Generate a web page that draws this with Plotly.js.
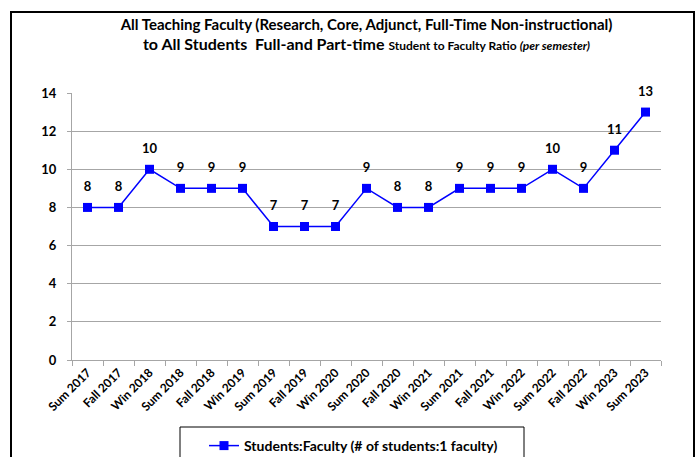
<!DOCTYPE html>
<html>
<head>
<meta charset="utf-8">
<script src="https://cdn.plot.ly/plotly-3.0.1.min.js"></script>
<style>html,body{margin:0;padding:0;background:#fff;}#chart{width:699px;height:457px;}</style>
</head>
<body>
<div id="chart"></div>
<script>
const semesters = ["Sum 2017","Fall 2017","Win 2018","Sum 2018","Fall 2018","Win 2019","Sum 2019","Fall 2019","Win 2020","Sum 2020","Fall 2020","Win 2021","Sum 2021","Fall 2021","Win 2022","Sum 2022","Fall 2022","Win 2023","Sum 2023"];
const ratio = [8,8,10,9,9,9,7,7,7,9,8,8,9,9,9,10,9,11,13];
const yTicks = [0,2,4,6,8,10,12,14];
const seriesName = "Students:Faculty (# of students:1 faculty)";

const FONT = "Lato, 'Open Sans', sans-serif";
const W = 699, H = 457;
const L = 72, R = 661, T = 93, B = 360;
const px = x => (x - L) / (R - L);
const py = y => (B - y) / (B - T);

const trace = {
  x: semesters, y: ratio, type: 'scatter', mode: 'lines+markers',
  name: seriesName,
  line: {color: '#0000FF', width: 1.5},
  marker: {symbol: 'square', size: 9, color: '#0000FF'},
  cliponaxis: false
};
const labels = {
  x: semesters, y: ratio, type: 'scatter', mode: 'markers+text',
  showlegend: false, hoverinfo: 'skip',
  marker: {size: 19, color: 'rgba(0,0,0,0)'},
  text: ratio.map(String), textposition: 'top center',
  textfont: {family: FONT, size: 13, color: '#000', weight: 'bold'},
  cliponaxis: false
};

const layout = {
  width: W, height: H,
  margin: {l: L, r: W - R, t: T, b: H - B},
  paper_bgcolor: '#fff', plot_bgcolor: '#fff',
  font: {family: FONT, color: '#000'},
  title: {
    text: "<b>All Teaching Faculty (Research, Core, Adjunct, Full-Time Non-instructional)</b><br><span style='font-size:16px'><b>to All Students  Full-and Part-time </b></span><span style='font-size:12px'><b>Student to Faculty Ratio <i>(per semester)</i></b></span>",
    font: {family: FONT, size: 15, color: '#000'},
    x: 0.5, xref: 'paper', xanchor: 'center',
    y: 1 - 30 / H, yref: 'container', yanchor: 'top'
  },
  xaxis: {
    type: 'category', categoryorder: 'array', categoryarray: semesters,
    range: [-0.5, semesters.length - 0.5],
    tickson: 'boundaries', ticks: 'outside', ticklen: 5, tickcolor: '#a6a6a6',
    showline: true, linecolor: '#a6a6a6', linewidth: 1,
    showgrid: false, zeroline: false,
    tickangle: -45, automargin: false,
    tickfont: {family: FONT, size: 12, color: '#000', weight: 'bold'}
  },
  yaxis: {
    range: [0, 14], tickvals: yTicks, ticktext: yTicks.map(String),
    ticks: 'outside', ticklen: 4, tickcolor: '#a6a6a6',
    showline: true, linecolor: '#a6a6a6', linewidth: 1,
    showgrid: true, gridcolor: '#a6a6a6', gridwidth: 1, zeroline: false,
    ticklabelstandoff: 8, automargin: false,
    tickfont: {family: FONT, size: 13, color: '#000', weight: 'bold'}
  },
  showlegend: true,
  legend: {
    orientation: 'h', x: (204) / W, xref: 'container', xanchor: 'left',
    y: 1 - 430 / H, yref: 'container', yanchor: 'top',
    bgcolor: 'rgba(0,0,0,0)', borderwidth: 0,
    font: {family: FONT, size: 14, color: '#000', weight: 'bold'}
  },
  shapes: [
    {type: 'rect', xref: 'paper', yref: 'paper', x0: px(11), x1: px(694), y0: py(480), y1: py(12),
     line: {color: '#000', width: 2}, fillcolor: 'rgba(0,0,0,0)'},
    {type: 'rect', xref: 'paper', yref: 'paper', x0: px(180), x1: px(524), y0: py(480), y1: py(427),
     line: {color: '#000', width: 1}, fillcolor: 'rgba(0,0,0,0)'}
  ]
};

Plotly.newPlot('chart', [trace, labels], layout, {displayModeBar: false, staticPlot: true});
</script>
</body>
</html>
